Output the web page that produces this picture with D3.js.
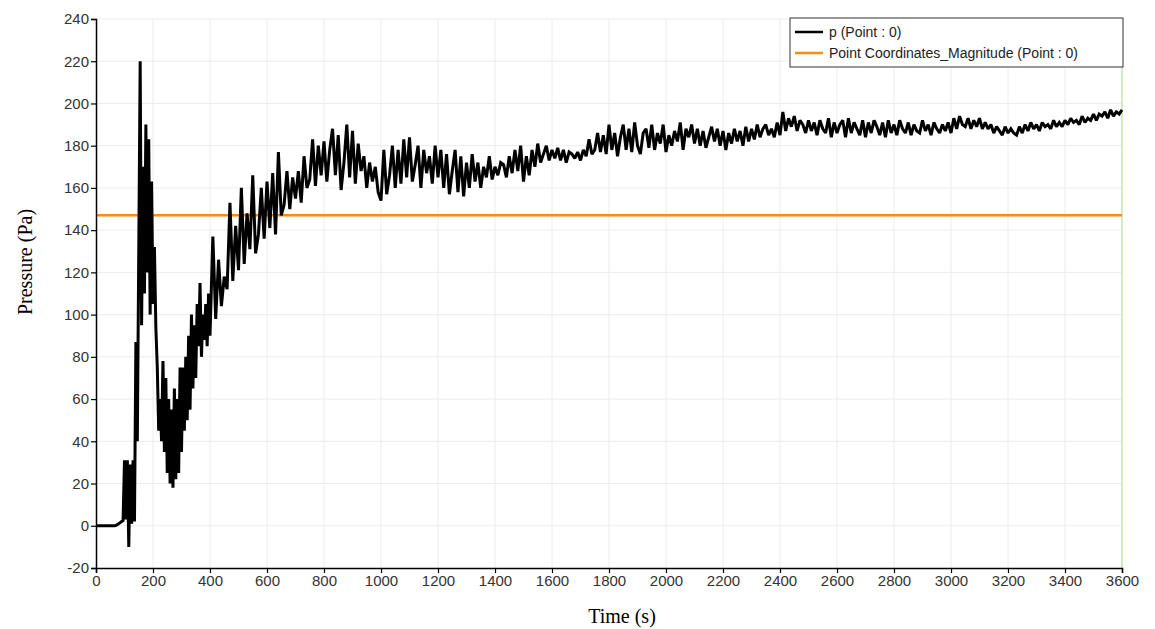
<!DOCTYPE html>
<html>
<head>
<meta charset="utf-8">
<script src="https://cdn.jsdelivr.net/npm/d3@7"></script>
<style>
	body { margin: 0; background: #fff; }
	svg { display: block; }
	.tick text { font-family: "Liberation Sans", Arial, sans-serif; font-size: 15px; fill: #333; }
</style>
</head>
<body>
<svg id="plot" width="1155" height="629"></svg>
<script>
// pressure probe p (Point : 0), sampled every 5 s up to 400 s
const EARLY_STEP = 5;
const EARLY_P = [
	0, 0, 0, 0, 0, 0, 0, 0, 0, 0,
	0, 0, 0, 0, 0.2, 0.5, 1, 1.5, 2, 2.5,
	31, 3, 31, -10, 29, 1, 31, 2, 87, 40,
	130, 220, 95, 170, 110, 190, 120, 183, 100, 163,
	105, 132, 94, 75, 45, 60, 40, 78, 35, 70,
	25, 60, 20, 55, 18, 65, 22, 60, 25, 75,
	35, 75, 45, 80, 50, 90, 55, 100, 65, 95,
	70, 105, 85, 115, 80, 100, 88, 105, 85, 110,
	90
];

// then every 10 s from 410 s to 3600 s
const LATE_START = 410;
const LATE_STEP = 10;
const LATE_P = [
	137, 98, 126, 104, 118, 112, 153, 116, 142, 121,
	160, 124, 148, 131, 166, 129, 138, 160, 136, 163,
	141, 167, 138, 177, 147, 152, 168, 150, 165, 155,
	168, 153, 175, 160, 164, 183, 161, 180, 166, 182,
	163, 178, 188, 166, 185, 159, 172, 190, 165, 187,
	162, 181, 168, 175, 160, 172, 163, 170, 158, 154,
	178, 157, 166, 180, 160, 178, 162, 183, 165, 184,
	163, 171, 180, 160, 178, 167, 175, 162, 180, 165,
	178, 160, 176, 157, 168, 178, 158, 175, 156, 172,
	160, 176, 163, 172, 160, 170, 165, 175, 164, 170,
	166, 172, 171, 165, 175, 167, 178, 168, 180, 163,
	175, 166, 178, 170, 181, 172, 176, 180, 173, 178,
	174, 179, 173, 178, 172, 177, 176, 174, 177, 173,
	178, 175, 183, 176, 178, 186, 177, 185, 176, 190,
	178, 186, 175, 184, 190, 178, 188, 177, 191, 180,
	176, 186, 188, 179, 190, 178, 186, 181, 190, 177,
	185, 180, 187, 182, 191, 178, 188, 184, 190, 181,
	188, 180, 187, 179, 184, 189, 182, 188, 180, 187,
	178, 186, 181, 188, 182, 187, 180, 189, 182, 188,
	183, 190, 184, 188, 190, 185, 188, 184, 191, 185,
	196, 187, 193, 189, 194, 187, 192, 190, 186, 192,
	187, 191, 185, 192, 188, 186, 193, 184, 191, 186,
	190, 192, 184, 193, 186, 191, 188, 185, 192, 184,
	191, 186, 192, 189, 185, 191, 184, 192, 186, 190,
	185, 192, 188, 186, 191, 185, 190, 187, 186, 192,
	187, 190, 185, 191, 188, 186, 190, 187, 191, 186,
	193, 188, 194, 190, 189, 193, 188, 192, 189, 193,
	188, 191, 188, 190, 186, 189, 187, 185, 189, 186,
	188, 186, 185, 189, 186, 190, 187, 191, 188, 190,
	187, 191, 189, 190, 188, 192, 189, 191, 189, 192,
	190, 193, 191, 192, 190, 194, 191, 193, 192, 195,
	192, 195, 194, 196, 193, 197, 194, 196, 195, 197
];

// Point Coordinates_Magnitude (Point : 0), constant over the run
const MAGNITUDE = 147;
const T_END = 3600;

const X_TICKS = d3.range(0, 3601, 200);
const Y_TICKS = d3.range(-20, 241, 20);
const LEGEND = ['p (Point : 0)', 'Point Coordinates_Magnitude (Point : 0)'];
const COLORS = ['#000000', '#ff8a14'];

const MARGIN = { top: 19, right: 33, bottom: 61, left: 96 };

whenDocumentLoaded(() => {
	const svg = d3.select('#plot');
	const W = +svg.attr('width'), H = +svg.attr('height');
	const w = W - MARGIN.left - MARGIN.right;
	const h = H - MARGIN.top - MARGIN.bottom;

	let data = EARLY_P.map((p, i) => ({ t: i * EARLY_STEP, p: p }));
	data = data.concat(LATE_P.map((p, i) => ({ t: LATE_START + i * LATE_STEP, p: p })));

	const x = d3.scaleLinear().domain([0, 3600]).range([0, w]);
	const y = d3.scaleLinear().domain([-20, 240]).range([h, 0]);

	const g = svg.append('g').attr('transform', `translate(${MARGIN.left},${MARGIN.top})`);

	// grid
	g.append('g').selectAll('line').data(X_TICKS.slice(1)).enter().append('line')
		.attr('x1', d => x(d)).attr('x2', d => x(d)).attr('y1', 0).attr('y2', h)
		.attr('stroke', '#ececec').attr('stroke-width', 1);
	g.append('g').selectAll('line').data(Y_TICKS.slice(1)).enter().append('line')
		.attr('x1', 0).attr('x2', w).attr('y1', d => y(d)).attr('y2', d => y(d))
		.attr('stroke', '#ececec').attr('stroke-width', 1);

	// current time marker
	g.append('line')
		.attr('x1', x(T_END)).attr('x2', x(T_END)).attr('y1', 0).attr('y2', h)
		.attr('stroke', '#c4e8b4').attr('stroke-width', 1.5);

	// magnitude line
	g.append('path')
		.datum([{ t: 0, p: MAGNITUDE }, { t: T_END, p: MAGNITUDE }])
		.attr('fill', 'none').attr('stroke', COLORS[1]).attr('stroke-width', 2.5)
		.attr('d', d3.line().x(d => x(d.t)).y(d => y(d.p)));

	// pressure
	g.append('path')
		.datum(data)
		.attr('fill', 'none').attr('stroke', COLORS[0]).attr('stroke-width', 3)
		.attr('stroke-linejoin', 'miter').attr('stroke-miterlimit', 2)
		.attr('d', d3.line().x(d => x(d.t)).y(d => y(d.p)));

	// axes
	const fmt = d => String(d);
	const xAxis = g.append('g').attr('transform', `translate(0,${h})`)
		.call(d3.axisBottom(x).tickValues(X_TICKS).tickFormat(fmt).tickSizeOuter(0).tickSize(5).tickPadding(2));
	const yAxis = g.append('g')
		.call(d3.axisLeft(y).tickValues(Y_TICKS).tickFormat(fmt).tickSizeOuter(0).tickSize(5).tickPadding(2));
	[xAxis, yAxis].forEach(a => {
		a.select('.domain').attr('stroke', '#000').attr('stroke-width', 1.5);
		a.selectAll('.tick line').attr('stroke', '#000').attr('stroke-width', 1.2);
	});

	// axis titles
	svg.append('text')
		.attr('x', 622).attr('y', 623)
		.attr('text-anchor', 'middle')
		.style('font-family', '"Liberation Serif", "Times New Roman", serif').style('font-size', '20px')
		.text('Time (s)');
	svg.append('text')
		.attr('transform', 'translate(32,262) rotate(-90)')
		.attr('text-anchor', 'middle')
		.style('font-family', '"Liberation Serif", "Times New Roman", serif').style('font-size', '20px')
		.text('Pressure (Pa)');

	// legend
	const lg = svg.append('g').attr('transform', 'translate(790,18)');
	lg.append('rect').attr('width', 333).attr('height', 49)
		.attr('fill', '#fff').attr('stroke', '#333').attr('stroke-width', 1);
	LEGEND.forEach((name, i) => {
		const yy = 14 + i * 21;
		lg.append('line').attr('x1', 5).attr('x2', 33).attr('y1', yy).attr('y2', yy)
			.attr('stroke', COLORS[i]).attr('stroke-width', 2.5);
		lg.append('text').attr('x', 39).attr('y', yy + 5)
			.style('font-family', '"Liberation Sans", Arial, sans-serif').style('font-size', '14px').attr('fill', '#222')
			.text(name);
	});
});

function whenDocumentLoaded(action) {
	if (document.readyState === "loading") {
		document.addEventListener("DOMContentLoaded", action);
	} else {
		action();
	}
}
</script>
</body>
</html>
